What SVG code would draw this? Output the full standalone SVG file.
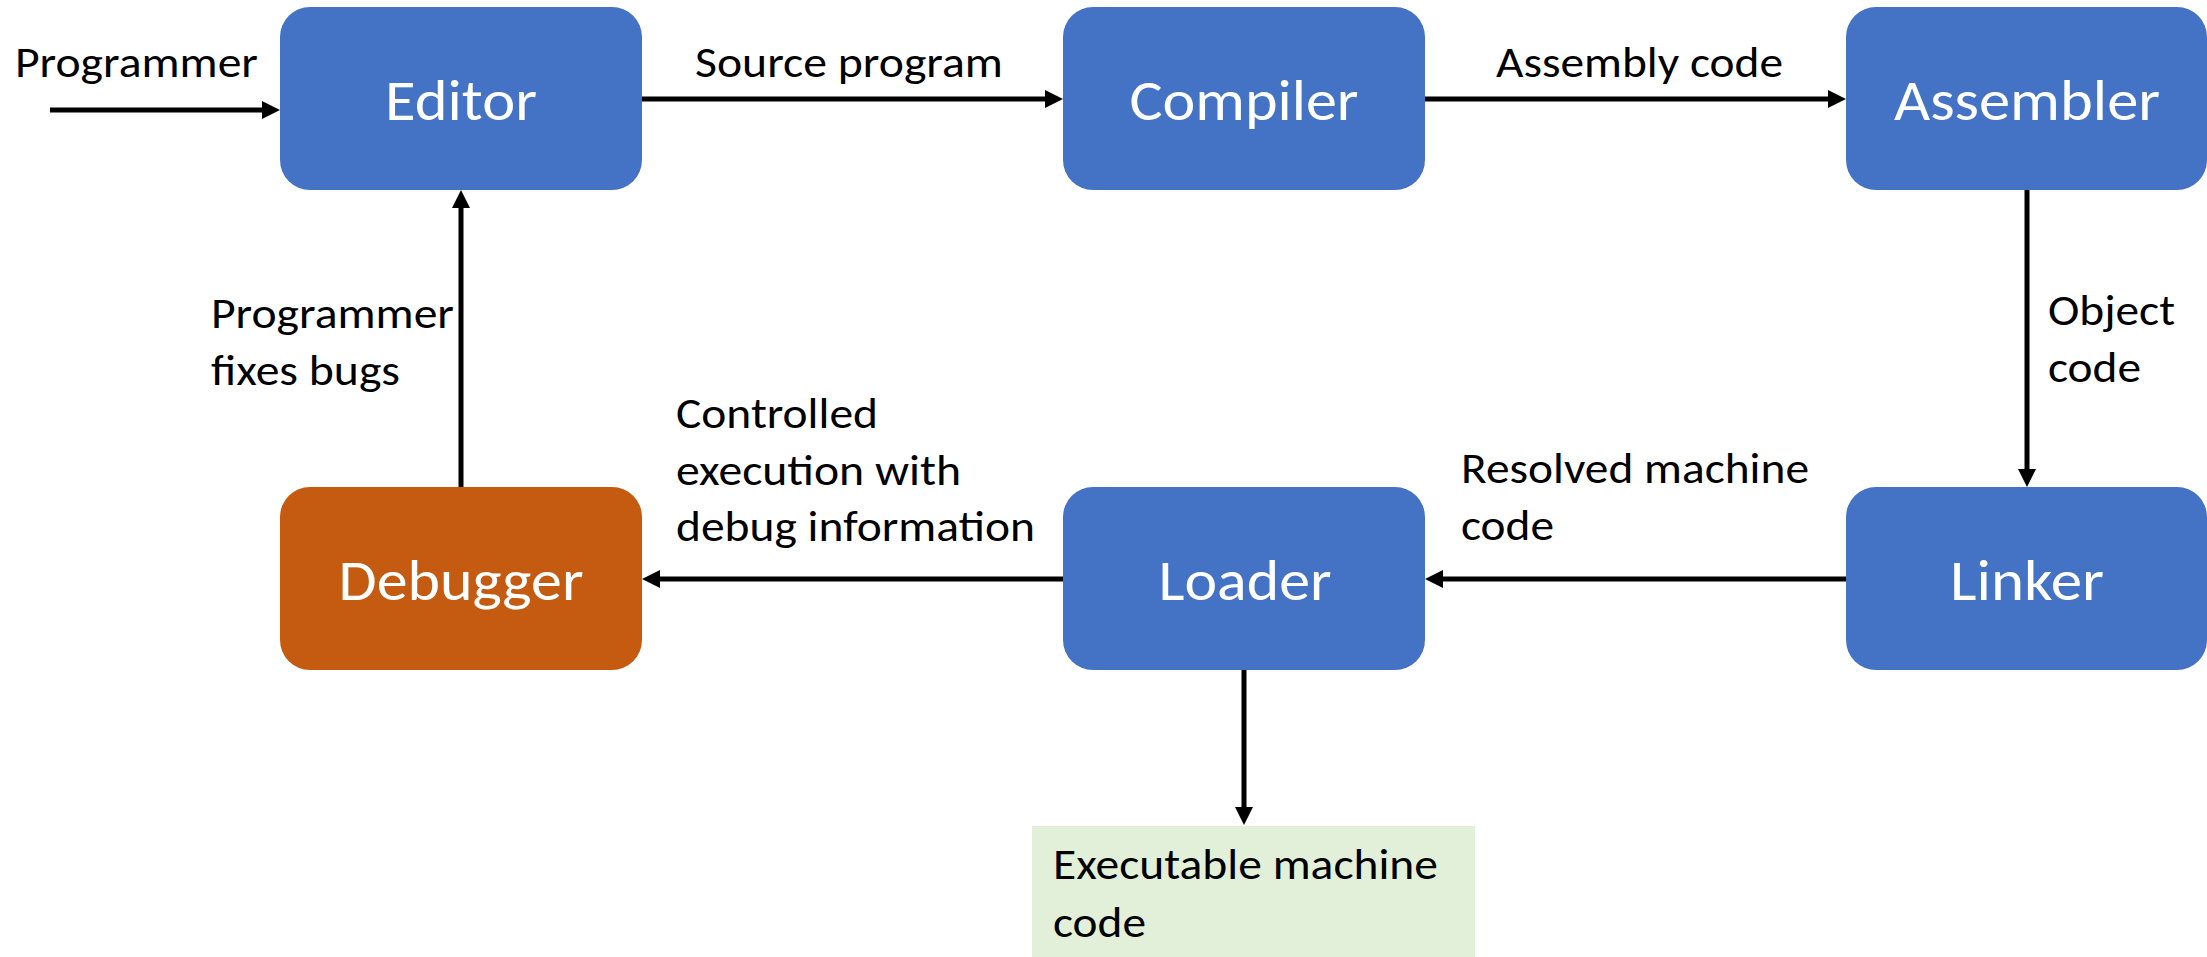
<svg xmlns="http://www.w3.org/2000/svg" width="2207" height="957" viewBox="0 0 2207 957">
<style>
.node{fill:#4472C4;}
.dbg{fill:#C55A11;}
.ntext{font-family:Carlito,Lato,"Open Sans",sans-serif;font-size:58px;fill:#FFFFFF;text-anchor:middle;}
.lbl{font-family:Carlito,Lato,"Open Sans",sans-serif;font-size:44px;fill:#000000;}
.conn{stroke:#000000;stroke-width:5;fill:none;marker-end:url(#arr);}
</style>
<defs>
<marker id="arr" markerUnits="userSpaceOnUse" markerWidth="18" markerHeight="18" viewBox="0 0 18 18" refX="10" refY="9" orient="auto">
<path d="M0,0 L18,9 L0,18 Z" fill="#000000"/>
</marker>
</defs>
<rect width="2207" height="957" fill="#FFFFFF"/>
<g id="connectors">
<line class="conn" x1="50" y1="110" x2="272" y2="110"/>
<line class="conn" x1="642" y1="99" x2="1055" y2="99"/>
<line class="conn" x1="1425" y1="99" x2="1838" y2="99"/>
<line class="conn" x1="2027" y1="190" x2="2027" y2="479"/>
<line class="conn" x1="1846" y1="579" x2="1433" y2="579"/>
<line class="conn" x1="1063" y1="579" x2="650" y2="579"/>
<line class="conn" x1="461" y1="487" x2="461" y2="198"/>
<line class="conn" x1="1244" y1="670" x2="1244" y2="817"/>
</g>
<g id="labels">
<text class="lbl" x="15" y="77" textLength="243" lengthAdjust="spacingAndGlyphs">Programmer</text>
<text class="lbl" x="695" y="77" textLength="308" lengthAdjust="spacingAndGlyphs">Source program</text>
<text class="lbl" x="1496" y="77" textLength="287" lengthAdjust="spacingAndGlyphs">Assembly code</text>
<text class="lbl" x="2048" y="325" textLength="127" lengthAdjust="spacingAndGlyphs">Object</text>
<text class="lbl" x="2048" y="382" textLength="93" lengthAdjust="spacingAndGlyphs">code</text>
<text class="lbl" x="1461" y="483" textLength="348" lengthAdjust="spacingAndGlyphs">Resolved machine</text>
<text class="lbl" x="1461" y="540" textLength="93" lengthAdjust="spacingAndGlyphs">code</text>
<text class="lbl" x="676" y="428" textLength="202" lengthAdjust="spacingAndGlyphs">Controlled</text>
<text class="lbl" x="676" y="485" textLength="285" lengthAdjust="spacingAndGlyphs">execution with</text>
<text class="lbl" x="676" y="541" textLength="359" lengthAdjust="spacingAndGlyphs">debug information</text>
<text class="lbl" x="211" y="328" textLength="243" lengthAdjust="spacingAndGlyphs">Programmer</text>
<text class="lbl" x="211" y="385" textLength="189" lengthAdjust="spacingAndGlyphs">fixes bugs</text>
</g>
<g id="editor">
<rect class="node" x="280" y="7" width="362" height="183" rx="30" ry="30"/>
<text class="ntext" x="461" y="120" textLength="152" lengthAdjust="spacingAndGlyphs">Editor</text>
</g>
<g id="compiler">
<rect class="node" x="1063" y="7" width="362" height="183" rx="30" ry="30"/>
<text class="ntext" x="1244" y="120" textLength="229" lengthAdjust="spacingAndGlyphs">Compiler</text>
</g>
<g id="assembler">
<rect class="node" x="1846" y="7" width="361" height="183" rx="30" ry="30"/>
<text class="ntext" x="2027" y="120" textLength="266" lengthAdjust="spacingAndGlyphs">Assembler</text>
</g>
<g id="debugger">
<rect class="dbg" x="280" y="487" width="362" height="183" rx="30" ry="30"/>
<text class="ntext" x="461" y="600" textLength="245" lengthAdjust="spacingAndGlyphs">Debugger</text>
</g>
<g id="loader">
<rect class="node" x="1063" y="487" width="362" height="183" rx="30" ry="30"/>
<text class="ntext" x="1245" y="600" textLength="173" lengthAdjust="spacingAndGlyphs">Loader</text>
</g>
<g id="linker">
<rect class="node" x="1846" y="487" width="361" height="183" rx="30" ry="30"/>
<text class="ntext" x="2027" y="600" textLength="154" lengthAdjust="spacingAndGlyphs">Linker</text>
</g>
<g id="executable">
<rect x="1032" y="826" width="443" height="131" fill="#E2F0D9"/>
<text class="lbl" x="1053" y="879" textLength="385" lengthAdjust="spacingAndGlyphs">Executable machine</text>
<text class="lbl" x="1053" y="937" textLength="93" lengthAdjust="spacingAndGlyphs">code</text>
</g>
</svg>
